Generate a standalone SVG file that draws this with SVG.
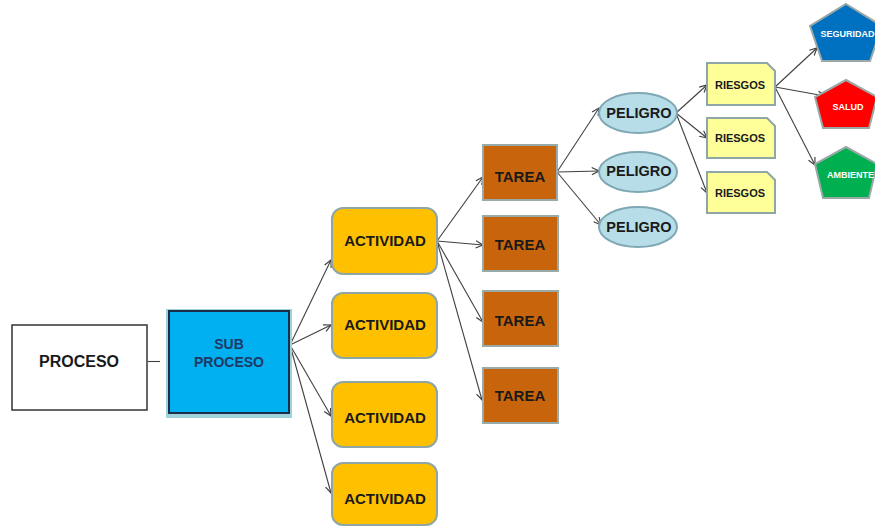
<svg xmlns="http://www.w3.org/2000/svg" width="875" height="526" viewBox="0 0 875 526">
  <defs>
    <marker id="arrow" viewBox="0 0 10 10" refX="9" refY="5" markerWidth="9" markerHeight="9" markerUnits="userSpaceOnUse" orient="auto">
      <path d="M1,1 L9,5 L1,9" fill="none" stroke="#404040" stroke-width="1.3"/>
    </marker>
    <style>
      text { font-family: "Liberation Sans", Arial, sans-serif; font-weight: bold; text-anchor: middle; }
      .lbl { fill: #1A1A1A; }
      .conn line { stroke: #404040; stroke-width: 1.1; marker-end: url(#arrow); }
      .act { fill: #FFC000; stroke: #8EA6A6; stroke-width: 2; }
      .tarea { fill: #C8650C; stroke: #9AAAA8; stroke-width: 2; }
      .pel { fill: #B7DEE8; stroke: #7FA8B4; stroke-width: 2; }
      .ries { fill: #FFFF99; stroke: #8EA6A6; stroke-width: 2; }
      .pent { stroke: #9AA8A8; stroke-width: 2; }
      .wlbl { fill: #FFFFFF; font-size: 9px; }
    </style>
  </defs>
  <rect width="875" height="526" fill="#FFFFFF"/>

  <!-- connectors -->
  <g id="connectors" class="conn">
    <line x1="148" y1="361.5" x2="160" y2="361.5" style="marker-end:none" stroke="#333333" stroke-width="1.5"/>
    <line x1="290" y1="345" x2="331" y2="260"/>
    <line x1="290" y1="345" x2="331" y2="325"/>
    <line x1="290" y1="345" x2="331" y2="416"/>
    <line x1="290" y1="345" x2="331" y2="493"/>
    <line x1="437" y1="241" x2="483" y2="177"/>
    <line x1="437" y1="241" x2="483" y2="245"/>
    <line x1="437" y1="241" x2="483" y2="322"/>
    <line x1="437" y1="241" x2="482" y2="400"/>
    <line x1="557" y1="172" x2="599" y2="108"/>
    <line x1="557" y1="172" x2="599" y2="171"/>
    <line x1="557" y1="172" x2="601" y2="225"/>
    <line x1="676" y1="113" x2="707" y2="85"/>
    <line x1="676" y1="113" x2="707" y2="138"/>
    <line x1="676" y1="113" x2="707" y2="193"/>
    <line x1="775" y1="87" x2="817" y2="48"/>
    <line x1="775" y1="87" x2="825" y2="96"/>
    <line x1="775" y1="87" x2="815" y2="165"/>
  </g>

  <!-- process -->
  <g id="proceso">
    <rect x="12" y="325" width="135" height="85" fill="#FFFFFF" stroke="#333333" stroke-width="1.5"/>
    <text class="lbl" x="79" y="367" font-size="16">PROCESO</text>
  </g>

  <g id="subproceso">
    <rect x="166" y="309" width="126" height="109" fill="#9ED3DB"/>
    <rect x="169" y="311" width="120" height="102" fill="#00B0F0" stroke="#1C2E4A" stroke-width="2"/>
    <text x="229" y="349" font-size="14" fill="#1F3864">SUB</text>
    <text x="229" y="367" font-size="14" fill="#1F3864">PROCESO</text>
  </g>

  <!-- activities -->
  <g id="actividad-1">
    <rect class="act" x="332" y="208" width="105" height="66" rx="11"/>
    <text class="lbl" x="385" y="245.5" font-size="15">ACTIVIDAD</text>
  </g>
  <g id="actividad-2">
    <rect class="act" x="332" y="293" width="105" height="65" rx="11"/>
    <text class="lbl" x="385" y="330" font-size="15">ACTIVIDAD</text>
  </g>
  <g id="actividad-3">
    <rect class="act" x="332" y="382" width="105" height="65" rx="11"/>
    <text class="lbl" x="385" y="423" font-size="15">ACTIVIDAD</text>
  </g>
  <g id="actividad-4">
    <rect class="act" x="332" y="463" width="105" height="62" rx="11"/>
    <text class="lbl" x="385" y="504" font-size="15">ACTIVIDAD</text>
  </g>

  <!-- tasks -->
  <g id="tarea-1">
    <rect class="tarea" x="483" y="145" width="74" height="55"/>
    <text class="lbl" x="520" y="182" font-size="15">TAREA</text>
  </g>
  <g id="tarea-2">
    <rect class="tarea" x="483" y="216" width="75" height="55"/>
    <text class="lbl" x="520" y="250" font-size="15">TAREA</text>
  </g>
  <g id="tarea-3">
    <rect class="tarea" x="483" y="291" width="75" height="55"/>
    <text class="lbl" x="520" y="325.5" font-size="15">TAREA</text>
  </g>
  <g id="tarea-4">
    <rect class="tarea" x="483" y="368" width="75" height="55"/>
    <text class="lbl" x="520" y="400.5" font-size="15">TAREA</text>
  </g>

  <!-- hazards -->
  <g id="peligro-1">
    <ellipse class="pel" cx="638" cy="113" rx="39" ry="20"/>
    <text class="lbl" x="639" y="118" font-size="14.5">PELIGRO</text>
  </g>
  <g id="peligro-2">
    <ellipse class="pel" cx="638" cy="172" rx="39" ry="20"/>
    <text class="lbl" x="639" y="176" font-size="14.5">PELIGRO</text>
  </g>
  <g id="peligro-3">
    <ellipse class="pel" cx="638" cy="227" rx="39" ry="20"/>
    <text class="lbl" x="639" y="232" font-size="14.5">PELIGRO</text>
  </g>

  <!-- risks -->
  <g id="riesgos-1">
    <path class="ries" d="M707,63 H767 L775,71 V105 H707 Z"/>
    <text class="lbl" x="740" y="89" font-size="11">RIESGOS</text>
  </g>
  <g id="riesgos-2">
    <path class="ries" d="M707,118 H767 L775,126 V158 H707 Z"/>
    <text class="lbl" x="740" y="142" font-size="11">RIESGOS</text>
  </g>
  <g id="riesgos-3">
    <path class="ries" d="M707,172 H767 L775,180 V213 H707 Z"/>
    <text class="lbl" x="740" y="197" font-size="11">RIESGOS</text>
  </g>

  <!-- consequence categories -->
  <g id="seguridad">
    <polygon class="pent" fill="#0070C0" points="846,4 882,26 870,61 822,61 810,26"/>
    <text class="wlbl" x="847.5" y="37" font-size="8.5">SEGURIDAD</text>
  </g>
  <g id="salud">
    <polygon class="pent" fill="#FF0000" points="846,80 877,97 869,128 823,128 815,97"/>
    <text class="wlbl" x="848" y="110">SALUD</text>
  </g>
  <g id="ambiente">
    <polygon class="pent" fill="#00B050" points="846,147 877,164 869,198 823,198 815,164"/>
    <text class="wlbl" x="850.5" y="178">AMBIENTE</text>
  </g>
</svg>
